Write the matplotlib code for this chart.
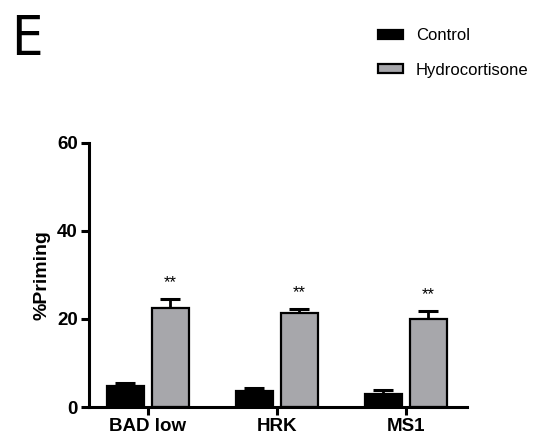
import matplotlib.pyplot as plt
import numpy as np

# Data
categories = ['BAD low', 'HRK', 'MS1']
control_mean = [4.8, 3.7, 3.0]
control_err = [0.6, 0.7, 0.9]
hydro_mean = [22.5, 21.4, 19.9]
hydro_err = [2.0, 0.9, 2.0]
sig_labels = ['**', '**', '**']
y_ticks = [0, 20, 40, 60]

plt.rcParams['font.family'] = ['Liberation Sans', 'DejaVu Sans']

fig = plt.figure(figsize=(5.56, 4.48), dpi=100)
ax = fig.add_axes([0.160, 0.0915, 0.680, 0.590])

x = np.arange(len(categories))
width = 0.287
off = 0.174
lw = 1.6

bars_c = ax.bar(x - off, control_mean, width, color='black', edgecolor='black',
                linewidth=lw, label='Control', zorder=2)
ax.errorbar(x - off, control_mean, yerr=[np.zeros(3), control_err], fmt='none',
            ecolor='black', elinewidth=2, capsize=7, capthick=2.2, zorder=1)
bars_h = ax.bar(x + off, hydro_mean, width, color='#a7a7ab', edgecolor='black',
                linewidth=lw, label='Hydrocortisone', zorder=2)
ax.errorbar(x + off, hydro_mean, yerr=[np.zeros(3), hydro_err], fmt='none',
            ecolor='black', elinewidth=2, capsize=7, capthick=2.2, zorder=1)

for xi, m, e, s in zip(x + off, hydro_mean, hydro_err, sig_labels):
    ax.text(xi, m + e + 2.0, s, ha='center', va='bottom', fontsize=12)

ax.set_xlim(-0.457, 2.475)
ax.set_ylim(0, 60)
ax.set_yticks(y_ticks)
ax.set_xticks(x)
ax.set_xticklabels(categories, fontsize=13.5, fontweight='bold')
for lab in ax.get_yticklabels():
    lab.set_fontsize(13.5)
    lab.set_fontweight('bold')
ax.set_ylabel('%Priming', fontsize=14, fontweight='bold', labelpad=5)

for side in ['top', 'right']:
    ax.spines[side].set_visible(False)
for side in ['left', 'bottom']:
    ax.spines[side].set_linewidth(2.2)
ax.tick_params(width=2.2, length=6, direction='out', pad=2)

fig.legend(handles=[bars_c, bars_h], loc='upper left',
           bbox_to_anchor=(0.652, 0.97), frameon=False, fontsize=12,
           handlelength=1.5, handleheight=0.45, labelspacing=1.15,
           handletextpad=0.8)

fig.text(0.02, 0.878, 'E', fontsize=40, fontweight='light',
         family='DejaVu Sans', fontstretch='condensed')

fig.savefig('out.png', dpi=100)
